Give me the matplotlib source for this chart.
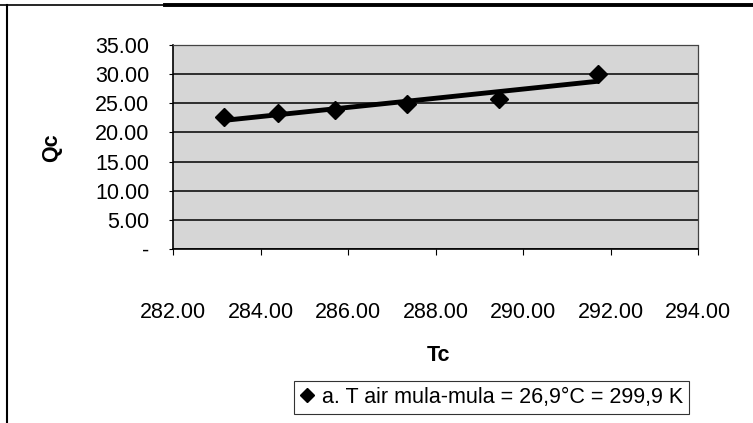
import numpy as np
import matplotlib
matplotlib.use('Agg')
import matplotlib.pyplot as plt
from matplotlib.lines import Line2D

# Data
tc = [283.17, 284.40, 285.70, 287.35, 289.45, 291.71]
qc = [22.6, 23.3, 23.8, 24.9, 25.7, 30.0]
serie_label = 'a. T air mula-mula = 26,9°C = 299,9 K'

x_ticks = [282, 284, 286, 288, 290, 292, 294]
y_ticks = [0, 5, 10, 15, 20, 25, 30, 35]
y_tick_labels = ['-', '5.00', '10.00', '15.00', '20.00', '25.00', '30.00', '35.00']

plt.rcParams['font.family'] = ['Liberation Sans', 'DejaVu Sans']
fs = 15.5

fig = plt.figure(figsize=(7.53, 4.23), dpi=100)
ax = fig.add_axes([173 / 753, 1 - 249 / 423, 525 / 753, 204 / 423])
ax.set_facecolor('#d6d6d6')

# Linear trend line
coef = np.polyfit(tc, qc, 1)
tc_line = np.array([tc[0], tc[-1]])
ax.plot(tc_line, np.polyval(coef, tc_line), color='black', linewidth=3.5,
        solid_capstyle='round', zorder=3)

# Data points
ax.plot(tc, qc, linestyle='none', marker='D', markersize=9, color='black',
        label=serie_label, zorder=4)

ax.set_xlim(282, 294)
ax.set_ylim(0, 35)
ax.set_xticks(x_ticks)
ax.set_xticklabels([f'{v:.2f}' for v in x_ticks], fontsize=fs)
ax.set_yticks(y_ticks)
ax.set_yticklabels(y_tick_labels, fontsize=fs)
ax.tick_params(axis='x', direction='out', length=4, pad=34)
ax.tick_params(axis='y', direction='out', length=3, pad=14)

ax.grid(axis='y', color='black', linewidth=1.1, linestyle='-')
ax.set_axisbelow(True)
for s in ['left', 'bottom']:
    ax.spines[s].set_linewidth(1.2)
for s in ['top', 'right']:
    ax.spines[s].set_linestyle((0, (2, 1)))
    ax.spines[s].set_linewidth(0.9)
    ax.spines[s].set_color('#444444')

fig.text(438 / 753, 1 - 355 / 423, 'Tc', ha='center', va='center',
         fontsize=fs, fontweight='bold')
fig.text(52 / 753, 1 - 148 / 423, 'Qc', ha='center', va='center',
         fontsize=fs, fontweight='bold', rotation=90)

leg = fig.legend(loc='center', bbox_to_anchor=(491.5 / 753, 1 - 397.5 / 423),
                 fontsize=fs, frameon=True, fancybox=False, handlelength=0.6,
                 handletextpad=0.4, borderpad=0.3, markerscale=0.75)
leg.get_frame().set_edgecolor('black')
leg.get_frame().set_linewidth(0.8)

# Scanned chart border (top and left)
fig.add_artist(Line2D([0, 165 / 753], [1 - 5 / 423, 1 - 5 / 423],
                      color='black', linewidth=1.2))
fig.add_artist(Line2D([165 / 753, 1], [1 - 5 / 423, 1 - 5 / 423],
                      color='black', linewidth=2.8))
fig.add_artist(Line2D([7 / 753, 7 / 753], [0, 1 - 5 / 423],
                      color='black', linewidth=1.5))

fig.savefig('out.png', dpi=100)
